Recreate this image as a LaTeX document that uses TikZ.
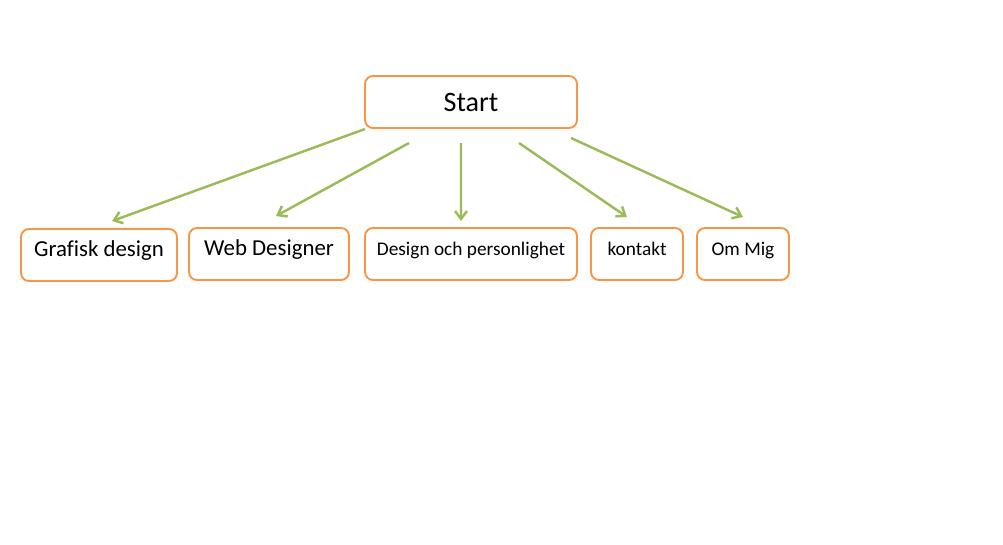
\documentclass[tikz,border=0pt]{standalone}
\usepackage{fontspec}
\setmainfont{Carlito}[Ligatures=CommonOff]
\usepackage{xcolor}
\usetikzlibrary{
	arrows.meta,
	positioning
}
\definecolor{BoxOrange}{RGB}{247,150,70}
\definecolor{LinkGreen}{RGB}{155,187,89}

\tikzset{
	box/.style={draw=BoxOrange, line width=1.1pt, rounded corners=0.16cm, fill=white,
		minimum height=1.04cm, inner sep=0pt},
	sub/.style={box, text height=0.3cm, text depth=0.25cm},
	link/.style={LinkGreen, line width=1.4pt, -{Straight Barb[length=0.16cm,width=0.24cm]}}
}

\begin{document}
\begin{tikzpicture}[x=0.02cm, y=-0.02cm]
		\useasboundingbox (0,0) rectangle (1003,544);
		\node[box, minimum width=4.24cm, font=\fontsize{16}{18}\selectfont] (start) at (471,102) {Start};
		\node[sub, minimum width=3.12cm, font=\fontsize{13}{15}\selectfont] (grafisk) at (99,255) {Grafisk design};
		\node[sub, minimum width=3.2cm, font=\fontsize{13}{15}\selectfont] (web) at (269,254) {Web Designer};
		\node[sub, minimum width=4.24cm, font=\fontsize{11}{13}\selectfont] (design) at (471,254) {Design och personlighet};
		\node[sub, minimum width=1.84cm, font=\fontsize{11}{13}\selectfont] (kontakt) at (637,254) {kontakt};
		\node[sub, minimum width=1.84cm, font=\fontsize{11}{13}\selectfont] (ommig) at (743,254) {Om Mig};
		% free ends under Start
		\coordinate (fromGrafisk) at (365,129);
		\coordinate (fromWeb) at (409,143);
		\coordinate (fromDesign) at (461,143);
		\coordinate (fromKontakt) at (519,143);
		\coordinate (fromOmMig) at (571,138);
		\draw[link] (fromGrafisk) -- ([xshift=0.26cm, yshift=0.14cm]grafisk.north);
		\draw[link] (fromWeb) -- ([xshift=0.14cm, yshift=0.22cm]web.north);
		\draw[link] (fromDesign) -- ([xshift=-0.2cm, yshift=0.12cm]design.north);
		\draw[link] (fromKontakt) -- ([xshift=-0.2cm, yshift=0.2cm]kontakt.north);
		\draw[link] (fromOmMig) -- ([yshift=0.2cm]ommig.north);
	\end{tikzpicture}
\end{document}
